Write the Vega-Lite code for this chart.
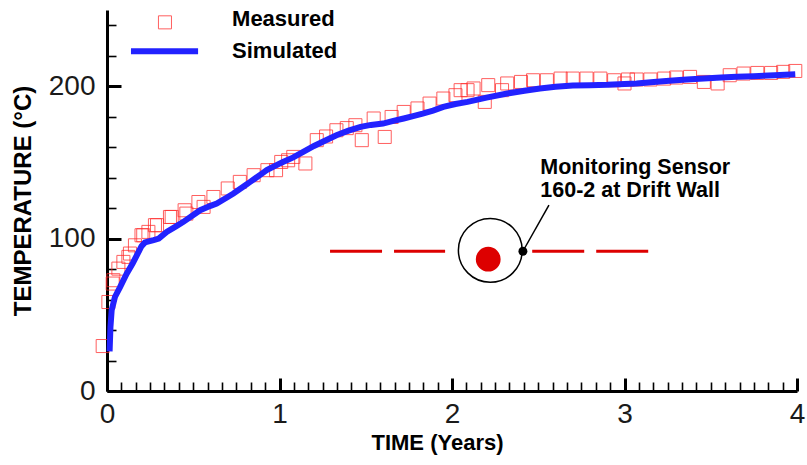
{
  "$schema": "https://vega.github.io/schema/vega-lite/v6.json",
  "width": 690,
  "height": 381,
  "autosize": {"type": "none"},
  "padding": {"left": 107, "top": 10, "right": 10, "bottom": 74},
  "background": "white",
  "config": {
    "view": {"stroke": null},
    "font": "Liberation Sans",
    "axis": {"grid": false, "domainColor": "black", "tickColor": "black", "labelColor": "#1a1a1a"}
  },
  "datasets": {
    "one": [{}],
    "simulated": [
      {"t": 0.015, "T": 26}, {"t": 0.02, "T": 42}, {"t": 0.027, "T": 53}, {"t": 0.046, "T": 61.7},
      {"t": 0.075, "T": 68}, {"t": 0.114, "T": 77}, {"t": 0.15, "T": 84}, {"t": 0.2, "T": 95},
      {"t": 0.22, "T": 97.5}, {"t": 0.27, "T": 99}, {"t": 0.3, "T": 100}, {"t": 0.346, "T": 104.4},
      {"t": 0.4, "T": 108}, {"t": 0.443, "T": 111}, {"t": 0.5, "T": 115.5}, {"t": 0.54, "T": 118.6},
      {"t": 0.6, "T": 121.5}, {"t": 0.636, "T": 123}, {"t": 0.7, "T": 127.3}, {"t": 0.733, "T": 129.6},
      {"t": 0.8, "T": 134.8}, {"t": 0.83, "T": 137.2}, {"t": 0.9, "T": 142.8}, {"t": 0.926, "T": 144.9},
      {"t": 1.0, "T": 149.2}, {"t": 1.02, "T": 150.3}, {"t": 1.08, "T": 153.3}, {"t": 1.14, "T": 157},
      {"t": 1.2, "T": 160.8}, {"t": 1.26, "T": 164}, {"t": 1.33, "T": 167.8}, {"t": 1.4, "T": 170.8},
      {"t": 1.47, "T": 173.3}, {"t": 1.53, "T": 174.6}, {"t": 1.6, "T": 175.5}, {"t": 1.66, "T": 177.2},
      {"t": 1.72, "T": 178.8}, {"t": 1.78, "T": 180.5}, {"t": 1.83, "T": 182}, {"t": 1.89, "T": 184},
      {"t": 1.95, "T": 186.4}, {"t": 2.02, "T": 188.3}, {"t": 2.09, "T": 189.7}, {"t": 2.2, "T": 192.5},
      {"t": 2.32, "T": 195.2}, {"t": 2.42, "T": 197}, {"t": 2.51, "T": 198.5}, {"t": 2.6, "T": 199.6},
      {"t": 2.7, "T": 200.5}, {"t": 2.8, "T": 200.7}, {"t": 2.9, "T": 200.9}, {"t": 3.0, "T": 201.4},
      {"t": 3.07, "T": 201.8}, {"t": 3.17, "T": 202.8}, {"t": 3.26, "T": 203.6}, {"t": 3.36, "T": 204.4},
      {"t": 3.46, "T": 205}, {"t": 3.56, "T": 205.7}, {"t": 3.65, "T": 206.2}, {"t": 3.75, "T": 206.6},
      {"t": 3.87, "T": 207.2}, {"t": 3.99, "T": 207.9}
    ],
    "measured": [
      {"t": -0.025, "T": 29.5}, {"t": 0.008, "T": 58.4}, {"t": 0.033, "T": 70.5}, {"t": 0.037, "T": 72.7},
      {"t": 0.066, "T": 80.3}, {"t": 0.095, "T": 84.7}, {"t": 0.124, "T": 88}, {"t": 0.133, "T": 90.2},
      {"t": 0.162, "T": 95.6}, {"t": 0.2, "T": 102.2}, {"t": 0.21, "T": 102.2}, {"t": 0.24, "T": 104.4},
      {"t": 0.278, "T": 108.8}, {"t": 0.29, "T": 108.8}, {"t": 0.365, "T": 114.2}, {"t": 0.375, "T": 114.2},
      {"t": 0.45, "T": 118.6}, {"t": 0.46, "T": 116.4}, {"t": 0.53, "T": 124}, {"t": 0.56, "T": 120.8},
      {"t": 0.617, "T": 127.3}, {"t": 0.7, "T": 132.9}, {"t": 0.77, "T": 137.2}, {"t": 0.85, "T": 141.6},
      {"t": 0.93, "T": 144.9}, {"t": 0.98, "T": 144.9}, {"t": 1.01, "T": 150.3}, {"t": 1.05, "T": 151.4},
      {"t": 1.08, "T": 153.6}, {"t": 1.15, "T": 149.3}, {"t": 1.216, "T": 164.6}, {"t": 1.27, "T": 167},
      {"t": 1.33, "T": 171.1}, {"t": 1.39, "T": 172.5}, {"t": 1.44, "T": 174.4}, {"t": 1.477, "T": 164.6},
      {"t": 1.546, "T": 178.8}, {"t": 1.61, "T": 166.7}, {"t": 1.65, "T": 179.8}, {"t": 1.72, "T": 183.1},
      {"t": 1.8, "T": 185.4}, {"t": 1.87, "T": 188.6}, {"t": 1.95, "T": 191.9}, {"t": 2.02, "T": 194.1},
      {"t": 2.05, "T": 197.4}, {"t": 2.09, "T": 197.4}, {"t": 2.125, "T": 198.5}, {"t": 2.19, "T": 189.7},
      {"t": 2.21, "T": 200.7}, {"t": 2.29, "T": 197.4}, {"t": 2.32, "T": 201.8}, {"t": 2.4, "T": 202.8},
      {"t": 2.47, "T": 203.9}, {"t": 2.55, "T": 203.9}, {"t": 2.63, "T": 205}, {"t": 2.7, "T": 205},
      {"t": 2.78, "T": 205}, {"t": 2.86, "T": 205}, {"t": 2.94, "T": 203.9}, {"t": 3.0, "T": 201.8},
      {"t": 3.02, "T": 204.4}, {"t": 3.07, "T": 204.4}, {"t": 3.15, "T": 204.4}, {"t": 3.23, "T": 205},
      {"t": 3.3, "T": 205.7}, {"t": 3.38, "T": 206.1}, {"t": 3.46, "T": 202.8}, {"t": 3.54, "T": 201.8},
      {"t": 3.61, "T": 207.2}, {"t": 3.69, "T": 208.3}, {"t": 3.77, "T": 208.7}, {"t": 3.85, "T": 208.7},
      {"t": 3.92, "T": 209.4}, {"t": 3.99, "T": 210}
    ]
  },
  "resolve": {"scale": {"x": "shared", "y": "shared"}, "axis": {"x": "independent", "y": "independent"}},
  "layer": [
    {
      "data": {"name": "measured"},
      "mark": {"type": "point", "shape": "square", "filled": false, "size": 170, "stroke": "#ff2a2a", "strokeWidth": 1, "opacity": 0.75},
      "encoding": {
        "x": {"field": "t", "type": "quantitative", "scale": {"domain": [0, 4], "nice": false, "zero": false},
          "axis": {"orient": "bottom", "title": null, "labels": false, "domain": false, "tickSize": -9, "tickWidth": 1.6,
            "values": [0.0833,0.1667,0.25,0.3333,0.4167,0.5,0.5833,0.6667,0.75,0.8333,0.9167,
                       1.0833,1.1667,1.25,1.3333,1.4167,1.5,1.5833,1.6667,1.75,1.8333,1.9167,
                       2.0833,2.1667,2.25,2.3333,2.4167,2.5,2.5833,2.6667,2.75,2.8333,2.9167,
                       3.0833,3.1667,3.25,3.3333,3.4167,3.5,3.5833,3.6667,3.75,3.8333,3.9167]}},
        "y": {"field": "T", "type": "quantitative", "scale": {"domain": [0, 250], "nice": false},
          "axis": {"orient": "left", "title": null, "labels": false, "domain": false, "tickSize": -9, "tickWidth": 1.6,
            "values": [20,40,60,80,120,140,160,180,220,240]}}
      }
    },
    {
      "data": {"name": "simulated"},
      "mark": {"type": "line", "color": "#2222ff", "strokeWidth": 6, "interpolate": "linear"},
      "encoding": {
        "x": {"field": "t", "type": "quantitative",
          "axis": {"orient": "bottom", "title": "TIME (Years)", "values": [0, 1, 2, 3, 4], "format": "d", "tickSize": -13, "tickWidth": 3,
            "domainWidth": 3, "labelFontSize": 28, "labelPadding": 22, "labelFlush": false,
            "titleFontSize": 22, "titleFontWeight": "bold", "titleColor": "black", "titlePadding": 4, "titleX": 330}},
        "y": {"field": "T", "type": "quantitative",
          "axis": {"orient": "left", "title": "TEMPERATURE (\u00b0C)", "values": [0, 100, 200], "tickSize": -14, "tickWidth": 3,
            "domainWidth": 3, "labelFontSize": 28, "labelPadding": 26,
            "titleFontSize": 24, "titleFontWeight": "bold", "titleColor": "black", "titlePadding": 13}}
      }
    },
    {
      "data": {"name": "one"},
      "mark": {"type": "rule", "stroke": "#dd0000", "strokeWidth": 3, "strokeDash": [52, 12]},
      "encoding": {"x": {"datum": 1.293, "axis": null}, "x2": {"datum": 1.96}, "y": {"datum": 91.7, "axis": null}}
    },
    {
      "data": {"name": "one"},
      "mark": {"type": "rule", "stroke": "#dd0000", "strokeWidth": 3, "strokeDash": [52, 12]},
      "encoding": {"x": {"datum": 2.465, "axis": null}, "x2": {"datum": 3.15}, "y": {"datum": 91.7, "axis": null}}
    },
    {
      "data": {"name": "one"},
      "mark": {"type": "point", "shape": "circle", "filled": false, "size": 4070, "stroke": "black", "strokeWidth": 1.5, "opacity": 1},
      "encoding": {"x": {"datum": 2.222, "axis": null}, "y": {"datum": 92.3, "axis": null}}
    },
    {
      "data": {"name": "one"},
      "mark": {"type": "point", "shape": "circle", "filled": true, "size": 616, "color": "#dd0000", "opacity": 1},
      "encoding": {"x": {"datum": 2.21, "axis": null}, "y": {"datum": 86.5, "axis": null}}
    },
    {
      "data": {"name": "one"},
      "mark": {"type": "rule", "stroke": "black", "strokeWidth": 1.5},
      "encoding": {"x": {"datum": 2.411, "axis": null}, "y": {"datum": 91.7, "axis": null}, "x2": {"datum": 2.562}, "y2": {"datum": 121.9}}
    },
    {
      "data": {"name": "one"},
      "mark": {"type": "point", "shape": "circle", "filled": true, "size": 80, "color": "black", "opacity": 1},
      "encoding": {"x": {"datum": 2.411, "axis": null}, "y": {"datum": 91.7, "axis": null}}
    },
    {
      "data": {"name": "one"},
      "mark": {"type": "text", "align": "left", "baseline": "alphabetic", "fontSize": 21.5, "fontWeight": "bold", "color": "black"},
      "encoding": {"x": {"datum": 2.512, "axis": null}, "y": {"datum": 142.7, "axis": null}, "text": {"value": "Monitoring Sensor"}}
    },
    {
      "data": {"name": "one"},
      "mark": {"type": "text", "align": "left", "baseline": "alphabetic", "fontSize": 21.5, "fontWeight": "bold", "color": "black"},
      "encoding": {"x": {"datum": 2.512, "axis": null}, "y": {"datum": 127.3, "axis": null}, "text": {"value": "160-2 at Drift Wall"}}
    },
    {
      "data": {"name": "one"},
      "mark": {"type": "point", "shape": "square", "filled": false, "size": 170, "stroke": "#ff2a2a", "strokeWidth": 1, "opacity": 0.75},
      "encoding": {"x": {"datum": 0.336, "axis": null}, "y": {"datum": 241.9, "axis": null}}
    },
    {
      "data": {"name": "one"},
      "mark": {"type": "rule", "stroke": "#2222ff", "strokeWidth": 6},
      "encoding": {"x": {"datum": 0.139, "axis": null}, "x2": {"datum": 0.528}, "y": {"datum": 222.9, "axis": null}}
    },
    {
      "data": {"name": "one"},
      "mark": {"type": "text", "align": "left", "baseline": "alphabetic", "fontSize": 22, "fontWeight": "bold", "color": "black"},
      "encoding": {"x": {"datum": 0.725, "axis": null}, "y": {"datum": 239.4, "axis": null}, "text": {"value": "Measured"}}
    },
    {
      "data": {"name": "one"},
      "mark": {"type": "text", "align": "left", "baseline": "alphabetic", "fontSize": 22, "fontWeight": "bold", "color": "black"},
      "encoding": {"x": {"datum": 0.725, "axis": null}, "y": {"datum": 218.8, "axis": null}, "text": {"value": "Simulated"}}
    }
  ]
}
